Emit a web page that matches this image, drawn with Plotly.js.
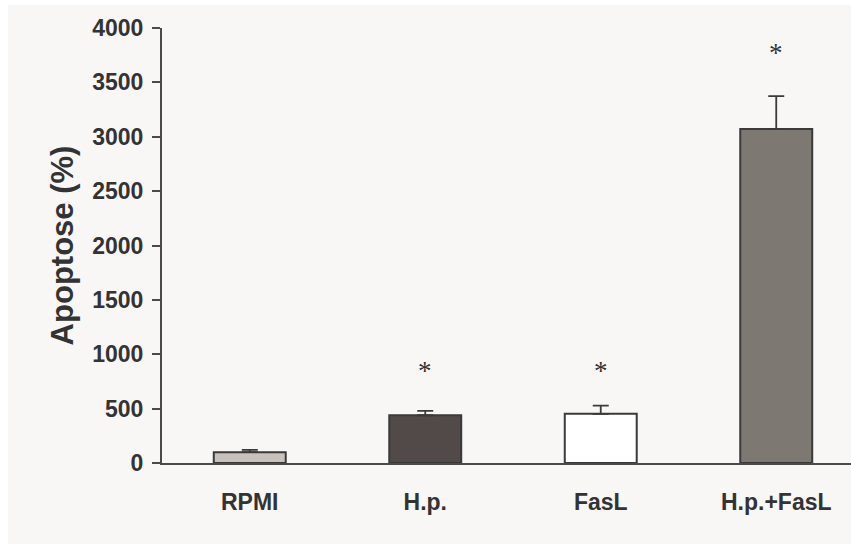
<!DOCTYPE html>
<html><head><meta charset="utf-8">
<script src="https://cdn.plot.ly/plotly-3.0.1.min.js"></script>
<style>html,body{margin:0;padding:0;background:#ffffff;}#chart{position:absolute;left:8px;top:5px;width:843px;height:539px;}</style>
</head><body><div id="chart"></div>
<script>
const categories = ["RPMI", "H.p.", "FasL", "H.p.+FasL"];
const values = [100, 439, 452, 3071];
const errorsUp = [20, 41, 76, 303];
const barColors = ["#c9c1bc", "#524a48", "#ffffff", "#7e7873"];
const starLabels = ["", "*", "*", "*"];
const starY = [0, 844, 844, 3770];
const yTicks = [0, 500, 1000, 1500, 2000, 2500, 3000, 3500, 4000];

const trace = {
  type: "bar",
  x: categories,
  y: values,
  width: 0.41,
  marker: {color: barColors, line: {color: "#3a3a3a", width: 2}},
  error_y: {type: "data", symmetric: false, array: errorsUp, arrayminus: values.map(() => 0),
            color: "#3a3a3a", thickness: 1.8, width: 8},
  hoverinfo: "none"
};

const annotations = [];
categories.forEach((c, i) => {
  if (starLabels[i]) annotations.push({
    x: c, y: starY[i], xref: "x", yref: "y", text: starLabels[i], showarrow: false,
    yanchor: "middle", font: {family: "Liberation Serif", size: 27, color: "#333333"}
  });
});

const layout = {
  width: 843, height: 539,
  margin: {l: 154, r: 0, t: 23, b: 81},
  paper_bgcolor: "#f8f7f6", plot_bgcolor: "#f8f7f6",
  showlegend: false,
  font: {family: "Liberation Sans", color: "#333333"},
  xaxis: {
    type: "category", range: [-0.5, 3.426], showgrid: false, zeroline: false,
    showline: true, linecolor: "#4a4a4a", linewidth: 2,
    ticks: "outside", ticklen: 17, tickcolor: "rgba(0,0,0,0)",
    tickfont: {family: "Liberation Sans", size: 23, color: "#333333", weight: "bold"},
    fixedrange: true
  },
  yaxis: {
    range: [0, 4000], tickvals: yTicks, showgrid: false, zeroline: false,
    showline: true, linecolor: "#4a4a4a", linewidth: 2,
    ticks: "outside", ticklen: 8, tickwidth: 2, tickcolor: "#4a4a4a",
    ticklabelstandoff: 4,
    tickfont: {family: "Liberation Sans", size: 23, color: "#333333", weight: "bold"},
    title: {text: "<b>Apoptose (%)</b>", font: {family: "Liberation Sans", size: 31, color: "#333333"}, standoff: 9},
    fixedrange: true
  },
  annotations: annotations
};

Plotly.newPlot("chart", [trace], layout, {displayModeBar: false, staticPlot: true});
</script></body></html>
